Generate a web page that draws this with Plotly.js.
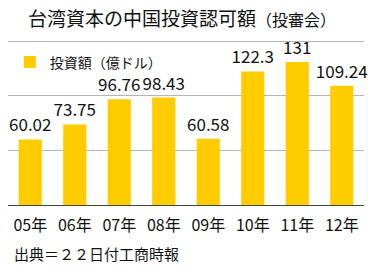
<!DOCTYPE html>
<html><head><meta charset="utf-8">
<script src="https://cdn.plot.ly/plotly-3.0.1.min.js"></script>
<style>html,body{margin:0;padding:0;background:#fff}#c{width:379px;height:275px}</style>
</head><body><div id="c"></div>
<script>
var categories = ["05年","06年","07年","08年","09年","10年","11年","12年"];
var values = [60.02, 73.75, 96.76, 98.43, 60.58, 122.3, 131, 109.24];
var labels = ["60.02","73.75","96.76","98.43","60.58","122.3","131","109.24"];
var seriesName = "投資額（億ドル）";
var titleMain = "台湾資本の中国投資認可額";
var titleSub = "（投審会）";
var sourceNote = "出典＝２２日付工商時報";

var F = "'Noto Sans CJK JP', 'Noto Sans', sans-serif";
var trace = {
  type: "bar", x: categories, y: values, name: seriesName,
  text: labels, textposition: "outside", cliponaxis: false, constraintext: "none",
  textfont: {family: F, size: 17, color: "#111"},
  marker: {color: "#FFCC00"}, hoverinfo: "none"
};
var layout = {
  width: 379, height: 275,
  margin: {l: 8, r: 15, t: 39, b: 70},
  paper_bgcolor: "#fff", plot_bgcolor: "#fff",
  font: {family: F, color: "#111"},
  bargap: 0.48,
  title: {text: titleMain + "<span style='font-size:16px'>" + titleSub + "</span>",
    font: {family: F, size: 19, color: "#111"},
    xref: "container", x: 0.48, xanchor: "center", yref: "container", y: 0.93, yanchor: "middle"},
  showlegend: true,
  legend: {x: 0.005, y: 0.955, xanchor: "left", yanchor: "top", bgcolor: "rgba(0,0,0,0)",
    font: {family: F, size: 14, color: "#111"}},
  xaxis: {type: "category", tickfont: {family: F, size: 16, color: "#111"},
    showline: true, linecolor: "#444", linewidth: 1, ticks: "", ticklabelstandoff: 6, fixedrange: true},
  yaxis: {range: [0, 152], tickvals: [50, 100, 150], showticklabels: false, showgrid: true,
    gridcolor: "#b5b5b5", gridwidth: 1, zeroline: false, showline: false, fixedrange: true},
  annotations: [{text: sourceNote, xref: "paper", yref: "paper", x: 4/356, y: -48/166,
    xanchor: "left", yanchor: "middle", showarrow: false, font: {family: F, size: 15, color: "#111"}}]
};
Plotly.newPlot("c", [trace], layout, {displayModeBar: false, staticPlot: true});
</script></body></html>
